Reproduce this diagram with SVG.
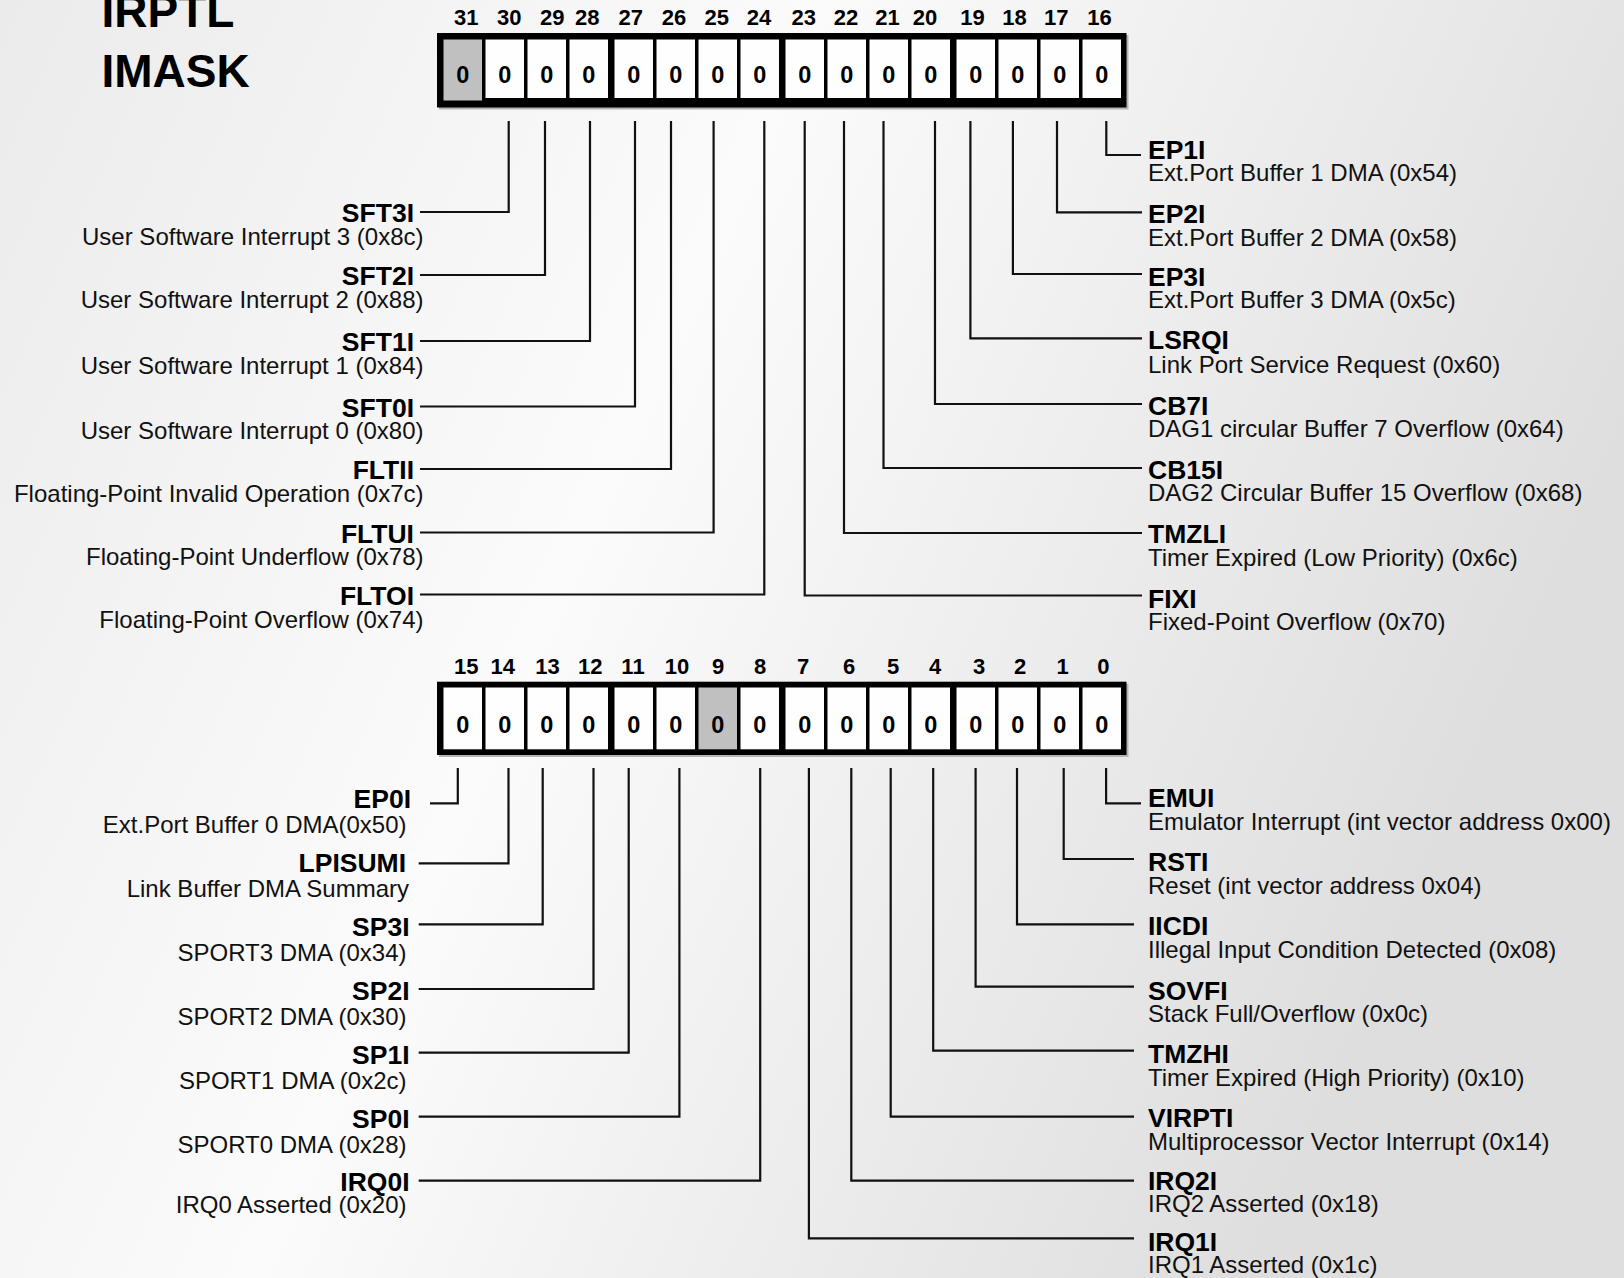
<svg xmlns="http://www.w3.org/2000/svg" width="1624" height="1278" viewBox="0 0 1624 1278">
<defs>
<linearGradient id="bg" x1="0" y1="0" x2="1" y2="0.35">
<stop offset="0" stop-color="#ebebeb"/>
<stop offset="0.45" stop-color="#fbfbfb"/>
<stop offset="1" stop-color="#dedede"/>
</linearGradient>
<style>
.title{font-family:"Liberation Sans",Arial,sans-serif;font-weight:bold;font-size:46px;fill:#000}
.bitn{font-family:"Liberation Sans",Arial,sans-serif;font-weight:bold;font-size:22px;fill:#000;text-anchor:middle}
.zero{font-family:"Liberation Sans",Arial,sans-serif;font-weight:bold;font-size:23.5px;fill:#000;text-anchor:middle}
.nm{font-family:"Liberation Sans",Arial,sans-serif;font-weight:bold;font-size:26.5px;fill:#000}
.ds{font-family:"Liberation Sans",Arial,sans-serif;font-size:24px;fill:#111}
.l .nm,.l .ds{text-anchor:end}
.frame{fill:#000}
.shadow{fill:#b4b4b4}
.cell{fill:#fefefe}
.gray{fill:#c0c0c0}
.conn path{fill:none;stroke:#111;stroke-width:2.2}
</style>
</defs>
<rect x="0" y="0" width="1624" height="1278" fill="url(#bg)"/>

<g id="titles">
<text class="title" x="101.5" y="27">IRPTL</text>
<text class="title" x="101.5" y="87.3">IMASK</text>
</g>

<g id="register-high">
<rect class="shadow" x="439" y="35" width="689.5" height="74.5"/>
<rect class="frame" x="437" y="33" width="689.5" height="74.5"/>
<rect class="gray" x="443.5" y="39.5" width="38.5" height="61"/>
<rect class="cell" x="485.5" y="39.5" width="38.5" height="58.5"/>
<rect class="cell" x="527.5" y="39.5" width="38.5" height="58.5"/>
<rect class="cell" x="569.5" y="39.5" width="38.5" height="58.5"/>
<rect class="cell" x="614.5" y="39.5" width="38.5" height="58.5"/>
<rect class="cell" x="656.5" y="39.5" width="38.5" height="58.5"/>
<rect class="cell" x="698.5" y="39.5" width="38.5" height="58.5"/>
<rect class="cell" x="740.5" y="39.5" width="38.5" height="58.5"/>
<rect class="cell" x="785.5" y="39.5" width="38.5" height="58.5"/>
<rect class="cell" x="827.5" y="39.5" width="38.5" height="58.5"/>
<rect class="cell" x="869.5" y="39.5" width="38.5" height="58.5"/>
<rect class="cell" x="911.5" y="39.5" width="38.5" height="58.5"/>
<rect class="cell" x="956.5" y="39.5" width="38.5" height="58.5"/>
<rect class="cell" x="998.5" y="39.5" width="38.5" height="58.5"/>
<rect class="cell" x="1040.5" y="39.5" width="38.5" height="58.5"/>
<rect class="cell" x="1082.5" y="39.5" width="38.5" height="58.5"/>
<text class="zero" x="462.75" y="83.3">0</text>
<text class="zero" x="504.75" y="83.3">0</text>
<text class="zero" x="546.75" y="83.3">0</text>
<text class="zero" x="588.75" y="83.3">0</text>
<text class="zero" x="633.75" y="83.3">0</text>
<text class="zero" x="675.75" y="83.3">0</text>
<text class="zero" x="717.75" y="83.3">0</text>
<text class="zero" x="759.75" y="83.3">0</text>
<text class="zero" x="804.75" y="83.3">0</text>
<text class="zero" x="846.75" y="83.3">0</text>
<text class="zero" x="888.75" y="83.3">0</text>
<text class="zero" x="930.75" y="83.3">0</text>
<text class="zero" x="975.75" y="83.3">0</text>
<text class="zero" x="1017.75" y="83.3">0</text>
<text class="zero" x="1059.75" y="83.3">0</text>
<text class="zero" x="1101.75" y="83.3">0</text>
<text class="bitn" x="466.3" y="25">31</text>
<text class="bitn" x="509.2" y="25">30</text>
<text class="bitn" x="552.2" y="25">29</text>
<text class="bitn" x="587.2" y="25">28</text>
<text class="bitn" x="630.7" y="25">27</text>
<text class="bitn" x="674" y="25">26</text>
<text class="bitn" x="716.7" y="25">25</text>
<text class="bitn" x="759" y="25">24</text>
<text class="bitn" x="803.7" y="25">23</text>
<text class="bitn" x="846" y="25">22</text>
<text class="bitn" x="887.6" y="25">21</text>
<text class="bitn" x="925" y="25">20</text>
<text class="bitn" x="972.5" y="25">19</text>
<text class="bitn" x="1014.5" y="25">18</text>
<text class="bitn" x="1056.3" y="25">17</text>
<text class="bitn" x="1099.5" y="25">16</text>
</g>

<g id="register-low">
<rect class="shadow" x="439" y="683.7" width="689.5" height="73.3"/>
<rect class="frame" x="437" y="681.7" width="689.5" height="73.3"/>
<rect class="cell" x="443.5" y="687.5" width="38.5" height="61.8"/>
<rect class="cell" x="485.5" y="687.5" width="38.5" height="61.8"/>
<rect class="cell" x="527.5" y="687.5" width="38.5" height="61.8"/>
<rect class="cell" x="569.5" y="687.5" width="38.5" height="61.8"/>
<rect class="cell" x="614.5" y="687.5" width="38.5" height="61.8"/>
<rect class="cell" x="656.5" y="687.5" width="38.5" height="61.8"/>
<rect class="gray" x="698.5" y="687.5" width="38.5" height="61.8"/>
<rect class="cell" x="740.5" y="687.5" width="38.5" height="61.8"/>
<rect class="cell" x="785.5" y="687.5" width="38.5" height="61.8"/>
<rect class="cell" x="827.5" y="687.5" width="38.5" height="61.8"/>
<rect class="cell" x="869.5" y="687.5" width="38.5" height="61.8"/>
<rect class="cell" x="911.5" y="687.5" width="38.5" height="61.8"/>
<rect class="cell" x="956.5" y="687.5" width="38.5" height="61.8"/>
<rect class="cell" x="998.5" y="687.5" width="38.5" height="61.8"/>
<rect class="cell" x="1040.5" y="687.5" width="38.5" height="61.8"/>
<rect class="cell" x="1082.5" y="687.5" width="38.5" height="61.8"/>
<text class="zero" x="462.75" y="733.3">0</text>
<text class="zero" x="504.75" y="733.3">0</text>
<text class="zero" x="546.75" y="733.3">0</text>
<text class="zero" x="588.75" y="733.3">0</text>
<text class="zero" x="633.75" y="733.3">0</text>
<text class="zero" x="675.75" y="733.3">0</text>
<text class="zero" x="717.75" y="733.3">0</text>
<text class="zero" x="759.75" y="733.3">0</text>
<text class="zero" x="804.75" y="733.3">0</text>
<text class="zero" x="846.75" y="733.3">0</text>
<text class="zero" x="888.75" y="733.3">0</text>
<text class="zero" x="930.75" y="733.3">0</text>
<text class="zero" x="975.75" y="733.3">0</text>
<text class="zero" x="1017.75" y="733.3">0</text>
<text class="zero" x="1059.75" y="733.3">0</text>
<text class="zero" x="1101.75" y="733.3">0</text>
<text class="bitn" x="466.2" y="674">15</text>
<text class="bitn" x="502.8" y="674">14</text>
<text class="bitn" x="547.5" y="674">13</text>
<text class="bitn" x="590.2" y="674">12</text>
<text class="bitn" x="633" y="674">11</text>
<text class="bitn" x="677" y="674">10</text>
<text class="bitn" x="718" y="674">9</text>
<text class="bitn" x="760" y="674">8</text>
<text class="bitn" x="803" y="674">7</text>
<text class="bitn" x="849" y="674">6</text>
<text class="bitn" x="893" y="674">5</text>
<text class="bitn" x="935" y="674">4</text>
<text class="bitn" x="979.2" y="674">3</text>
<text class="bitn" x="1020.2" y="674">2</text>
<text class="bitn" x="1062.5" y="674">1</text>
<text class="bitn" x="1103.3" y="674">0</text>
</g>

<g id="connectors" class="conn">
<path d="M420,212 H508.7 V121"/>
<path d="M420,275 H545 V121"/>
<path d="M420,341 H590 V121"/>
<path d="M420,406.5 H635 V121"/>
<path d="M420,469 H671 V121"/>
<path d="M420,532.5 H713.6 V121"/>
<path d="M420,594.5 H764.3 V121"/>
<path d="M1142,595.5 H804.7 V121"/>
<path d="M1142,533 H844 V121"/>
<path d="M1142,468 H883.5 V121"/>
<path d="M1142,404 H935 V121"/>
<path d="M1142,338.3 H970.4 V121"/>
<path d="M1142,274 H1012.9 V121"/>
<path d="M1142,212.3 H1057 V121"/>
<path d="M1141,155 H1106.3 V121"/>
<path d="M430,803.3 H457.8 V768"/>
<path d="M418.7,863.3 H508.5 V768"/>
<path d="M418.7,924.3 H542.7 V768"/>
<path d="M418.7,989 H593.5 V768"/>
<path d="M418.7,1052.7 H628.7 V768"/>
<path d="M418.7,1116.7 H679.4 V768"/>
<path d="M418.7,1180.7 H760.2 V768"/>
<path d="M1134,1238.3 H808.9 V768"/>
<path d="M1134,1180.7 H851.3 V768"/>
<path d="M1134,1116.7 H890.7 V768"/>
<path d="M1134,1050.7 H933.2 V768"/>
<path d="M1134,986.7 H975.6 V768"/>
<path d="M1134,924.3 H1017 V768"/>
<path d="M1134,859 H1063.7 V768"/>
<path d="M1141,803.3 H1106.1 V768"/>
</g>

<g id="SFT3I" class="l"><text class="nm" x="414" y="222">SFT3I</text><text class="ds" x="423.5" y="244.5">User Software Interrupt 3 (0x8c)</text></g>
<g id="SFT2I" class="l"><text class="nm" x="414" y="285">SFT2I</text><text class="ds" x="423.5" y="307.5">User Software Interrupt 2 (0x88)</text></g>
<g id="SFT1I" class="l"><text class="nm" x="414" y="351">SFT1I</text><text class="ds" x="423.5" y="373.5">User Software Interrupt 1 (0x84)</text></g>
<g id="SFT0I" class="l"><text class="nm" x="414" y="416.5">SFT0I</text><text class="ds" x="423.5" y="439">User Software Interrupt 0 (0x80)</text></g>
<g id="FLTII" class="l"><text class="nm" x="414" y="479">FLTII</text><text class="ds" x="423.5" y="501.5">Floating-Point Invalid Operation (0x7c)</text></g>
<g id="FLTUI" class="l"><text class="nm" x="414" y="542.5">FLTUI</text><text class="ds" x="423.5" y="565">Floating-Point Underflow (0x78)</text></g>
<g id="FLTOI" class="l"><text class="nm" x="414" y="605">FLTOI</text><text class="ds" x="423.5" y="628">Floating-Point Overflow (0x74)</text></g>

<g id="EP1I"><text class="nm" x="1148" y="159">EP1I</text><text class="ds" x="1148" y="181">Ext.Port Buffer 1 DMA (0x54)</text></g>
<g id="EP2I"><text class="nm" x="1148" y="222.5">EP2I</text><text class="ds" x="1148" y="246">Ext.Port Buffer 2 DMA (0x58)</text></g>
<g id="EP3I"><text class="nm" x="1148" y="285.5">EP3I</text><text class="ds" x="1148" y="308.3">Ext.Port Buffer 3 DMA (0x5c)</text></g>
<g id="LSRQI"><text class="nm" x="1148" y="348.5">LSRQI</text><text class="ds" x="1148" y="372.5">Link Port Service Request (0x60)</text></g>
<g id="CB7I"><text class="nm" x="1148" y="414.5">CB7I</text><text class="ds" x="1148" y="437">DAG1 circular Buffer 7 Overflow (0x64)</text></g>
<g id="CB15I"><text class="nm" x="1148" y="479">CB15I</text><text class="ds" x="1148" y="501.3">DAG2 Circular Buffer 15 Overflow (0x68)</text></g>
<g id="TMZLI"><text class="nm" x="1148" y="543">TMZLI</text><text class="ds" x="1148" y="565.5">Timer Expired (Low Priority) (0x6c)</text></g>
<g id="FIXI"><text class="nm" x="1148" y="607.5">FIXI</text><text class="ds" x="1148" y="629.7">Fixed-Point Overflow (0x70)</text></g>

<g id="EP0I" class="l"><text class="nm" x="411" y="807.7">EP0I</text><text class="ds" x="406.5" y="833.3">Ext.Port Buffer 0 DMA(0x50)</text></g>
<g id="LPISUMI" class="l"><text class="nm" x="406" y="871.7">LPISUMI</text><text class="ds" x="409" y="896.7">Link Buffer DMA Summary</text></g>
<g id="SP3I" class="l"><text class="nm" x="409.5" y="935.7">SP3I</text><text class="ds" x="406.5" y="960.7">SPORT3 DMA (0x34)</text></g>
<g id="SP2I" class="l"><text class="nm" x="409.5" y="1000">SP2I</text><text class="ds" x="406.5" y="1025">SPORT2 DMA (0x30)</text></g>
<g id="SP1I" class="l"><text class="nm" x="409.5" y="1064">SP1I</text><text class="ds" x="406.5" y="1089">SPORT1 DMA (0x2c)</text></g>
<g id="SP0I" class="l"><text class="nm" x="409.5" y="1128">SP0I</text><text class="ds" x="406.5" y="1153">SPORT0 DMA (0x28)</text></g>
<g id="IRQ0I" class="l"><text class="nm" x="409.5" y="1190.5">IRQ0I</text><text class="ds" x="406.5" y="1212.5">IRQ0 Asserted (0x20)</text></g>

<g id="EMUI"><text class="nm" x="1148" y="806.5">EMUI</text><text class="ds" x="1148" y="830">Emulator Interrupt (int vector address 0x00)</text></g>
<g id="RSTI"><text class="nm" x="1148" y="870.5">RSTI</text><text class="ds" x="1148" y="894">Reset (int vector address 0x04)</text></g>
<g id="IICDI"><text class="nm" x="1148" y="935">IICDI</text><text class="ds" x="1148" y="958.3">Illegal Input Condition Detected (0x08)</text></g>
<g id="SOVFI"><text class="nm" x="1148" y="999.5">SOVFI</text><text class="ds" x="1148" y="1021.7">Stack Full/Overflow (0x0c)</text></g>
<g id="TMZHI"><text class="nm" x="1148" y="1063">TMZHI</text><text class="ds" x="1148" y="1086">Timer Expired (High Priority) (0x10)</text></g>
<g id="VIRPTI"><text class="nm" x="1148" y="1126.5">VIRPTI</text><text class="ds" x="1148" y="1150">Multiprocessor Vector Interrupt (0x14)</text></g>
<g id="IRQ2I"><text class="nm" x="1148" y="1189.5">IRQ2I</text><text class="ds" x="1148" y="1212">IRQ2 Asserted (0x18)</text></g>
<g id="IRQ1I"><text class="nm" x="1148" y="1251">IRQ1I</text><text class="ds" x="1148" y="1273.3">IRQ1 Asserted (0x1c)</text></g>
</svg>
